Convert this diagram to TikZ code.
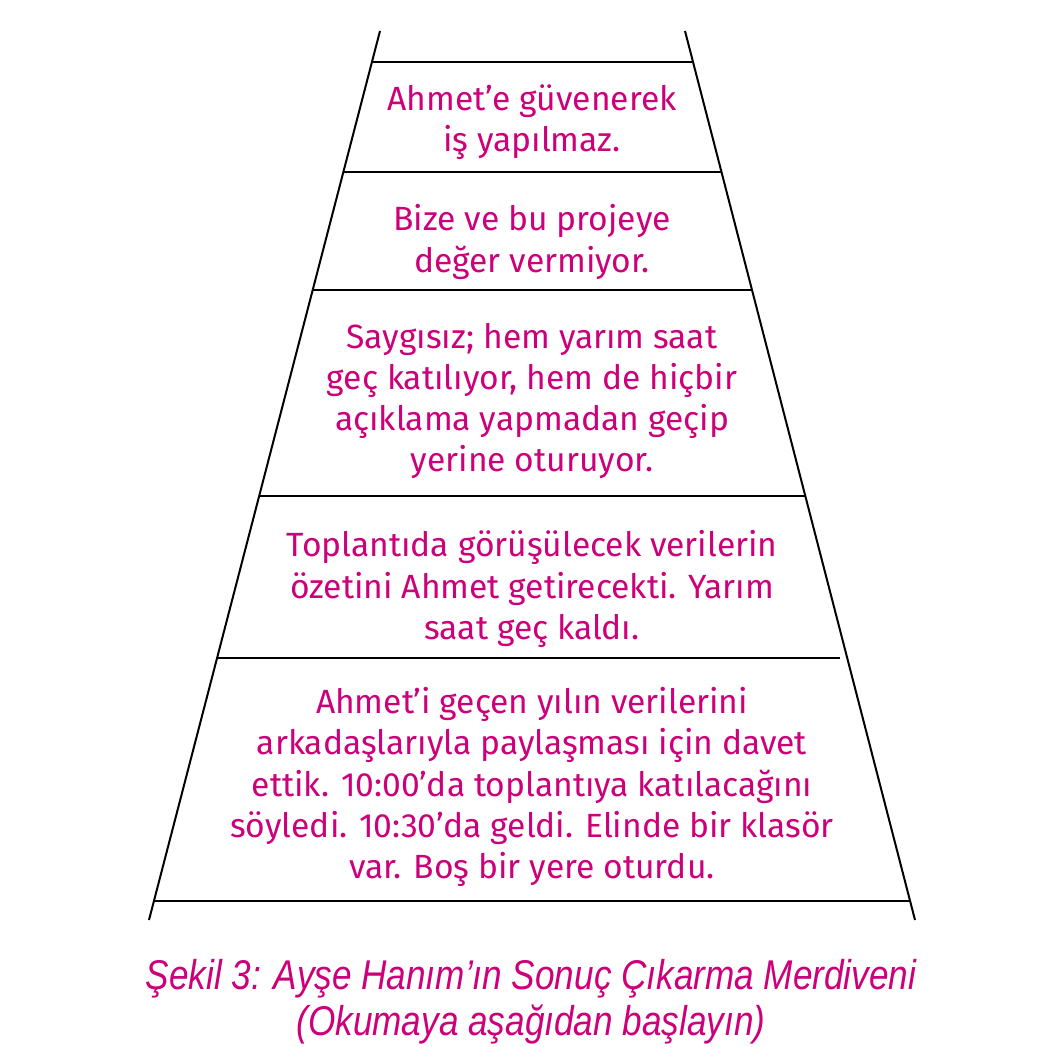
\documentclass[tikz,border=0pt]{standalone}
\usepackage{fontspec}
\setmainfont{Fira Sans}
\newfontfamily\capfont[FakeStretch=0.845]{Liberation Sans}
\usetikzlibrary{calc}
\definecolor{stepmagenta}{RGB}{204,0,122}
\begin{document}
\begin{tikzpicture}[x=0.5pt,y=-0.5pt,
	leg/.style={line width=1pt},
	rung/.style={line width=1pt},
	steptext/.style={text=stepmagenta,align=center,font=\fontsize{16.8}{20.6}\selectfont,inner sep=0pt}]

	\useasboundingbox (0,0) rectangle (1049,1047);

	% legs
	\coordinate (lt) at (380,31);
	\coordinate (lb) at (149,920);
	\coordinate (rt) at (685,31);
	\coordinate (rb) at (915,920);
	\draw[leg] (lt) -- (lb);
	\draw[leg] (rt) -- (rb);

	% rungs
	\foreach \y in {62,172,290,496} {
		\draw[rung] ($(lt)!{(\y-31)/889}!(lb)$) -- ($(rt)!{(\y-31)/889}!(rb)$);
	}
	\draw[rung,shorten >=3.5pt] ($(lt)!{(658-31)/889}!(lb)$) -- ($(rt)!{(658-31)/889}!(rb)$);
	\draw[rung,line width=1.4pt] ($(lt)!{(901-31)/889}!(lb)$) -- ($(rt)!{(901-31)/889}!(rb)$);

	% step texts
	\node[steptext] (s5) at (532,122) {Ahmet’e güvenerek\\iş yapılmaz.};
	\node[steptext] (s4) at (532,242) {Bize ve bu projeye\\değer vermiyor.};
	\node[steptext] (s3) at (532,401) {Saygısız; hem yarım saat\\geç katılıyor, hem de hiçbir\\açıklama yapmadan geçip\\yerine oturuyor.};
	\node[steptext] (s2) at (532,589) {Toplantıda görüşülecek verilerin\\özetini Ahmet getirecekti. Yarım\\saat geç kaldı.};
	\node[steptext] (s1) at (532,787) {Ahmet’i geçen yılın verilerini\\arkadaşlarıyla paylaşması için davet\\ettik. 10:00’da toplantıya katılacağını\\söyledi. 10:30’da geldi. Elinde bir klasör\\var. Boş bir yere oturdu.};

	% caption
	\node[text=stepmagenta,align=center,font=\capfont\itshape\fontsize{20.8}{23}\selectfont,inner sep=0pt] (cap) at (531,1002) {Şekil 3: Ayşe Hanım’ın Sonuç Çıkarma Merdiveni\\(Okumaya aşağıdan başlayın)};

\end{tikzpicture}
\end{document}
